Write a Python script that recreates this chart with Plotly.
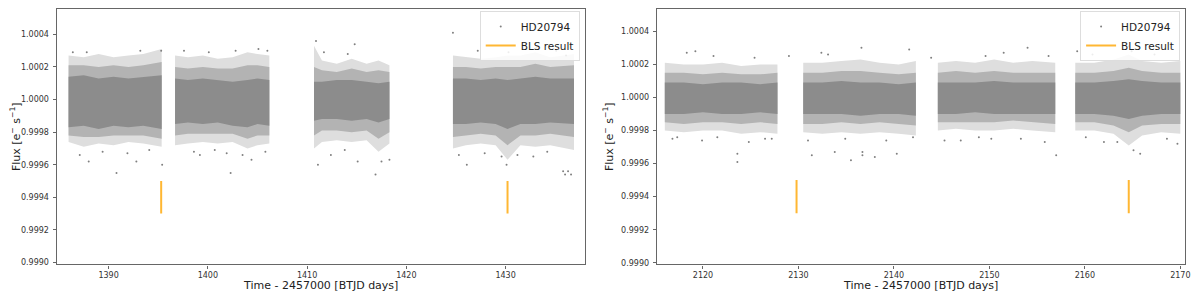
import plotly.graph_objects as go

# ---- sector A (left panel) : envelope of the flux cloud per data segment ----
a_t = [
    [1385.97, 1387.5, 1389.0, 1390.5, 1392.0, 1393.5, 1395.35],
    [1396.7, 1398.0, 1399.5, 1401.0, 1402.5, 1404.0, 1405.0, 1406.2],
    [1410.7, 1411.5, 1413.0, 1414.5, 1416.0, 1417.2, 1418.3],
    [1424.7, 1426.0, 1427.5, 1429.0, 1430.2, 1431.5, 1433.0, 1434.5, 1436.9],
]
a_outer_hi = [
    [1.00027, 1.00026, 1.00028, 1.00026, 1.00027, 1.00028, 1.00031],
    [1.00027, 1.00026, 1.00027, 1.00025, 1.00026, 1.00029, 1.00028, 1.00027],
    [1.00033, 1.00024, 1.00022, 1.00025, 1.00022, 1.00024, 1.00021],
    [1.00027, 1.00026, 1.00025, 1.00026, 1.00027, 1.00027, 1.00029, 1.00026, 1.00028],
]
a_mid_hi = [
    [1.00021, 1.00021, 1.00020, 1.00021, 1.00020, 1.00021, 1.00023],
    [1.00020, 1.00019, 1.00020, 1.00019, 1.00019, 1.00021, 1.00021, 1.00020],
    [1.00020, 1.00018, 1.00017, 1.00019, 1.00017, 1.00018, 1.00017],
    [1.00020, 1.00020, 1.00019, 1.00020, 1.00020, 1.00020, 1.00022, 1.00020, 1.00021],
]
a_core_hi = [
    [1.00014, 1.00015, 1.00013, 1.00014, 1.00013, 1.00014, 1.00015],
    [1.00013, 1.00012, 1.00013, 1.00012, 1.00011, 1.00012, 1.00013, 1.00012],
    [1.00011, 1.00011, 1.00012, 1.00012, 1.00011, 1.00010, 1.00011],
    [1.00013, 1.00013, 1.00012, 1.00013, 1.00012, 1.00013, 1.00014, 1.00013, 1.00013],
]
a_core_lo = [
    [0.99983, 0.99984, 0.99982, 0.99984, 0.99983, 0.99984, 0.99982],
    [0.99985, 0.99986, 0.99985, 0.99986, 0.99984, 0.99983, 0.99985, 0.99984],
    [0.99987, 0.99988, 0.99988, 0.99987, 0.99988, 0.99986, 0.99988],
    [0.99985, 0.99985, 0.99986, 0.99985, 0.99982, 0.99985, 0.99985, 0.99986, 0.99985],
]
a_mid_lo = [
    [0.99978, 0.99977, 0.99977, 0.99978, 0.99978, 0.99978, 0.99976],
    [0.99978, 0.99979, 0.99979, 0.99979, 0.99979, 0.99976, 0.99978, 0.99978],
    [0.99978, 0.99981, 0.99981, 0.99980, 0.99981, 0.99976, 0.99980],
    [0.99977, 0.99978, 0.99979, 0.99978, 0.99972, 0.99978, 0.99978, 0.99979, 0.99977],
]
a_outer_lo = [
    [0.99974, 0.99971, 0.99973, 0.99972, 0.99974, 0.99973, 0.99971],
    [0.99972, 0.99973, 0.99974, 0.99973, 0.99974, 0.99970, 0.99972, 0.99973],
    [0.99970, 0.99974, 0.99975, 0.99974, 0.99975, 0.99968, 0.99973],
    [0.99970, 0.99972, 0.99973, 0.99972, 0.99963, 0.99972, 0.99971, 0.99972, 0.99969],
]
# scattered points outside the dense cloud
a_pts_t = [1390.8, 1402.3, 1416.9, 1436.0, 1436.6, 1424.7, 1395.3, 1392.8, 1388.0,
           1387.1, 1395.4, 1403.5, 1404.4, 1411.1, 1415.1, 1418.3, 1426.1, 1430.1,
           1432.8, 1435.8, 1436.3, 1414.8, 1433.1, 1430.3, 1436.1, 1405.1, 1402.8,
           1387.8, 1397.6, 1410.9, 1399.2, 1389.4, 1391.9, 1394.1, 1398.6, 1400.7,
           1401.9, 1405.8, 1412.4, 1413.8, 1417.5, 1425.3, 1427.9, 1429.6, 1431.2,
           1434.2, 1386.4, 1393.2, 1400.1, 1406.0, 1411.7, 1414.1, 1427.2, 1435.1]
a_pts_f = [0.99955, 0.99955, 0.99954, 0.99954, 0.99954, 1.00041, 1.00030, 0.99962, 0.99962,
           0.99966, 0.99960, 0.99966, 0.99963, 0.99960, 0.99962, 0.99963, 0.99960, 0.99960,
           0.99965, 0.99956, 0.99956, 1.00034, 1.00032, 1.00029, 1.00027, 1.00031, 1.00030,
           1.00029, 1.00030, 1.00036, 0.99966, 0.99968, 0.99967, 0.99969, 0.99968, 0.99969,
           0.99967, 0.99968, 0.99966, 0.99969, 0.99962, 0.99966, 0.99967, 0.99965, 0.99966,
           0.99968, 1.00029, 1.00030, 1.00029, 1.00030, 1.00029, 1.00028, 1.00030, 1.00030]

# ---- sector B (right panel) ----
b_t = [
    [2116.0, 2118.0, 2120.0, 2122.0, 2124.0, 2126.0, 2127.8],
    [2130.5, 2132.5, 2134.5, 2136.5, 2138.5, 2140.5, 2142.3],
    [2144.6, 2146.5, 2148.5, 2150.5, 2152.5, 2154.5, 2156.9],
    [2159.0, 2161.0, 2163.0, 2164.6, 2166.0, 2168.0, 2170.0],
]
b_outer_hi = [
    [1.00021, 1.00020, 1.00020, 1.00021, 1.00019, 1.00020, 1.00020],
    [1.00021, 1.00021, 1.00022, 1.00023, 1.00021, 1.00020, 1.00022],
    [1.00021, 1.00022, 1.00021, 1.00023, 1.00021, 1.00022, 1.00021],
    [1.00021, 1.00021, 1.00023, 1.00026, 1.00022, 1.00021, 1.00022],
]
b_mid_hi = [
    [1.00015, 1.00015, 1.00014, 1.00015, 1.00014, 1.00014, 1.00015],
    [1.00015, 1.00015, 1.00016, 1.00016, 1.00015, 1.00014, 1.00015],
    [1.00015, 1.00016, 1.00015, 1.00016, 1.00015, 1.00015, 1.00015],
    [1.00015, 1.00015, 1.00016, 1.00018, 1.00016, 1.00015, 1.00015],
]
b_core_hi = [
    [1.00009, 1.00009, 1.00008, 1.00009, 1.00009, 1.00008, 1.00009],
    [1.00009, 1.00009, 1.00010, 1.00009, 1.00009, 1.00008, 1.00009],
    [1.00009, 1.00009, 1.00009, 1.00010, 1.00009, 1.00009, 1.00009],
    [1.00009, 1.00009, 1.00010, 1.00011, 1.00010, 1.00009, 1.00009],
]
b_core_lo = [
    [0.99990, 0.99990, 0.99991, 0.99990, 0.99990, 0.99991, 0.99990],
    [0.99990, 0.99990, 0.99990, 0.99989, 0.99990, 0.99990, 0.99989],
    [0.99990, 0.99990, 0.99991, 0.99990, 0.99990, 0.99990, 0.99990],
    [0.99990, 0.99990, 0.99989, 0.99987, 0.99989, 0.99990, 0.99990],
]
b_mid_lo = [
    [0.99985, 0.99984, 0.99985, 0.99985, 0.99984, 0.99985, 0.99984],
    [0.99984, 0.99984, 0.99985, 0.99984, 0.99985, 0.99984, 0.99983],
    [0.99985, 0.99985, 0.99985, 0.99985, 0.99986, 0.99985, 0.99984],
    [0.99985, 0.99985, 0.99983, 0.99979, 0.99983, 0.99984, 0.99984],
]
b_outer_lo = [
    [0.99980, 0.99979, 0.99980, 0.99980, 0.99978, 0.99979, 0.99978],
    [0.99979, 0.99978, 0.99979, 0.99978, 0.99979, 0.99978, 0.99977],
    [0.99980, 0.99981, 0.99980, 0.99980, 0.99981, 0.99980, 0.99979],
    [0.99980, 0.99980, 0.99978, 0.99971, 0.99977, 0.99979, 0.99978],
]
b_pts_t = [2123.6, 2123.6, 2131.4, 2133.8, 2135.5, 2136.7, 2136.7, 2138.0, 2140.3,
           2157.0, 2165.1, 2169.7, 2154.0, 2159.2, 2164.9, 2164.6, 2141.6, 2136.6,
           2132.4, 2119.2, 2118.3, 2125.4, 2117.3, 2126.5, 2147.0, 2151.5, 2162.0,
           2116.8, 2119.9, 2121.5, 2124.8, 2127.2, 2131.0, 2134.9, 2139.2, 2142.0,
           2145.3, 2148.9, 2150.2, 2153.3, 2155.8, 2160.1, 2163.4, 2165.8, 2168.6,
           2121.1, 2129.0, 2133.1, 2143.9, 2149.6, 2156.2, 2160.8, 2167.3]
b_pts_f = [0.99966, 0.99961, 0.99965, 0.99967, 0.99962, 0.99967, 0.99965, 0.99964, 0.99966,
           0.99965, 0.99968, 0.99972, 1.00030, 1.00028, 1.00028, 1.00031, 1.00029, 1.00030,
           1.00027, 1.00028, 1.00027, 1.00024, 0.99976, 0.99975, 0.99974, 1.00027, 0.99973,
           0.99975, 0.99974, 0.99976, 0.99973, 0.99975, 0.99974, 0.99975, 0.99974, 0.99976,
           0.99974, 0.99976, 0.99975, 0.99975, 0.99973, 0.99976, 0.99973, 0.99966, 0.99975,
           1.00025, 1.00025, 1.00026, 1.00024, 1.00025, 1.00025, 1.00026, 1.00026]

# BLS transit markers
bls_a = [1395.3, 1430.2]
bls_b = [2129.8, 2164.6]
bls_lo, bls_hi = 0.9993, 0.9995

GRAY = "#808080"
ORANGE = "#ffb733"
XTITLE = "Time - 2457000 [BTJD days]"

fig = go.Figure()


def add_band(t, hi, lo, color, xa, ya):
    fig.add_trace(go.Scatter(
        x=t + t[::-1], y=hi + lo[::-1], fill="toself", fillcolor=color,
        mode="lines", line=dict(width=0), hoverinfo="skip", showlegend=False,
        xaxis=xa, yaxis=ya))


def add_panel(ts, ohi, mhi, chi, clo, mlo, olo, pts_t, pts_f, bls, xa, ya, leg):
    for i in range(len(ts)):
        add_band(ts[i], ohi[i], olo[i], "#dedede", xa, ya)
        add_band(ts[i], mhi[i], mlo[i], "#b3b3b3", xa, ya)
        add_band(ts[i], chi[i], clo[i], "#8c8c8c", xa, ya)
    fig.add_trace(go.Scatter(
        x=pts_t, y=pts_f, mode="markers", name="HD20794",
        marker=dict(color=GRAY, size=2), xaxis=xa, yaxis=ya, legend=leg))
    bx, by = [], []
    for t in bls:
        bx += [t, t, None]
        by += [bls_lo, bls_hi, None]
    fig.add_trace(go.Scatter(
        x=bx, y=by, mode="lines", name="BLS result",
        line=dict(color=ORANGE, width=2), xaxis=xa, yaxis=ya, legend=leg))


add_panel(a_t, a_outer_hi, a_mid_hi, a_core_hi, a_core_lo, a_mid_lo, a_outer_lo,
          a_pts_t, a_pts_f, bls_a, "x", "y", "legend")
add_panel(b_t, b_outer_hi, b_mid_hi, b_core_hi, b_core_lo, b_mid_lo, b_outer_lo,
          b_pts_t, b_pts_f, bls_b, "x2", "y2", "legend2")

tickfont = dict(family="DejaVu Sans", size=8, color="#333")
titlefont = dict(family="DejaVu Sans", size=11, color="#222")
common_x = dict(showline=True, mirror=True, linecolor="#666", linewidth=1.2,
                ticks="outside", ticklen=3, tickcolor="#666", showgrid=False,
                zeroline=False, tickfont=tickfont, dtick=10)
common_y = dict(showline=True, mirror=True, linecolor="#666", linewidth=1.2,
                ticks="outside", ticklen=3, tickcolor="#666", showgrid=False,
                zeroline=False, tickfont=tickfont, dtick=0.0002, tickformat=".4f",
                ticklabelstandoff=2,
                title=dict(text="Flux [e<sup>−</sup> s<sup>−1</sup>]", font=titlefont, standoff=5))

legend_style = dict(font=dict(family="DejaVu Sans", size=10.5, color="#222"),
                    bgcolor="rgba(255,255,255,0.85)", bordercolor="#dddddd",
                    borderwidth=1, xanchor="right", yanchor="top",
                    itemwidth=30, tracegroupgap=0)

# the page body adds an 8px offset, so the layout is laid out 8px up/left
fig.update_layout(
    width=1192, height=290, margin=dict(l=0, r=0, t=0, b=0),
    plot_bgcolor="white", paper_bgcolor="white",
    xaxis=dict(domain=[0.03775, 0.48406], range=[1384.77, 1437.97], anchor="y", **common_x),
    yaxis=dict(domain=[0.1069, 1.0], range=[0.998988, 1.000556], anchor="x", **common_y),
    xaxis2=dict(domain=[0.54505, 0.99161], range=[2115.16, 2170.5], anchor="y2", **common_x),
    yaxis2=dict(domain=[0.1069, 1.0], range=[0.99899, 1.000535], anchor="x2", **common_y),
    legend=dict(x=0.4799, y=0.993, **legend_style),
    legend2=dict(x=0.9874, y=0.993, **legend_style),
    annotations=[
        dict(text=XTITLE, x=0.2605, y=0.0345, xref="paper", yref="paper",
             xanchor="center", yanchor="middle", showarrow=False, font=titlefont),
        dict(text=XTITLE, x=0.7676, y=0.0345, xref="paper", yref="paper",
             xanchor="center", yanchor="middle", showarrow=False, font=titlefont),
    ],
)

fig.write_html("out.html")
